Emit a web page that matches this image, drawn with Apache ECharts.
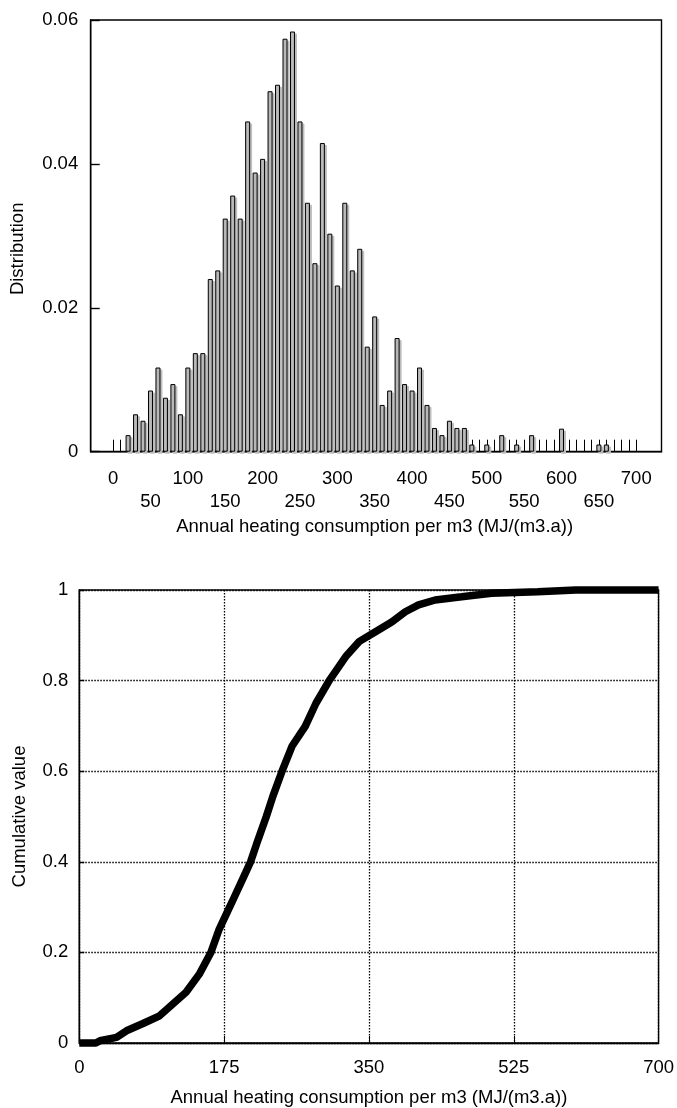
<!DOCTYPE html>
<html>
<head>
<meta charset="utf-8">
<script src="https://cdn.jsdelivr.net/npm/echarts@6/dist/echarts.min.js"></script>
<style>
html,body{margin:0;padding:0;background:#fff;}
#chart{width:677px;height:1108px;}
</style>
</head>
<body>
<div id="chart"></div>
<script>
// ---------- data ----------
const binStarts = [0,10,20,30,40,50,60,70,80,90,100,110,120,130,140,150,160,170,180,190,200,210,220,230,240,250,260,270,280,290,300,310,320,330,340,350,360,370,380,390,400,410,420,430,440,450,460,470,480,490,500,510,520,530,540,550,560,570,580,590,600,610,620,630,640,650,660,670,680,690,700];
const distribution = [
  0,0,0.0023,0.0052,0.0043,0.0085,0.0117,0.0075,0.0094,0.0052,
  0.0117,0.0137,0.0137,0.0240,0.0252,0.0324,0.0356,0.0324,0.0459,0.0388,
  0.0407,0.0501,0.0510,0.0574,0.0584,0.0459,0.0346,0.0262,0.0429,0.0303,
  0.0231,0.0346,0.0252,0.0282,0.0146,0.0188,0.0065,0.0085,0.0158,0.0094,
  0.0085,0.0117,0.0065,0.0033,0.0023,0.0043,0.0033,0.0033,0.0010,0,
  0.0010,0,0.0023,0,0.0010,0,0.0023,0,0,0,
  0.0032,0,0,0,0,0.0010,0.0010,0,0,0,
  0
];
const cdfX = [0,20,25,45,57,77,97,113,129,145,159,169,185,201,207,214,226,234,245,257,273,286,302,322,338,358,378,394,410,430,462,498,554,600,700];
const cdfY = [0,0,0.005,0.0125,0.027,0.043,0.060,0.086,0.112,0.152,0.2,0.251,0.313,0.376,0.4,0.438,0.5,0.545,0.6,0.655,0.699,0.750,0.8,0.853,0.886,0.908,0.930,0.952,0.967,0.978,0.985,0.993,0.996,1.0,1.0];
const xTitle = 'Annual heating consumption per m3 (MJ/(m3.a))';
const yTitleTop = 'Distribution';
const yTitleBottom = 'Cumulative value';

// ---------- layout ----------
const FONT = 'Liberation Sans, Arial, Helvetica, sans-serif';
const FS = 18.5;
const top1 = { left: 90.7, right: 661.5, top: 20, bottom: 451.7 };
const xMin1 = -30, xMax1 = 733.8;
const px1 = v => top1.left + (v - xMin1) / (xMax1 - xMin1) * (top1.right - top1.left);
const bot = { left: 79.3, right: 661, top: 590, bottom: 1044 };

const txt = { color: '#000', fontFamily: FONT, fontSize: FS };
const black = { color: '#000', width: 1.4 };

const barData = binStarts.map((b, i) => [b, distribution[i] === 0 ? null : distribution[i]]);
const cdfData = cdfX.map((x, i) => [x, cdfY[i]]);

const chart = echarts.init(document.getElementById('chart'), null, { renderer: 'canvas' });
chart.setOption({
  animation: false,
  backgroundColor: '#fff',
  grid: [
    { left: top1.left, width: top1.right - top1.left, top: top1.top, height: top1.bottom - top1.top,
      show: true, borderColor: '#000', borderWidth: 1.4, backgroundColor: 'transparent' },
    { left: px1(0), width: px1(700) - px1(0), top: top1.top, height: top1.bottom - top1.top, show: false },
    { left: bot.left, width: bot.right - bot.left, top: bot.top, height: bot.bottom - bot.top,
      show: true, borderColor: '#000', borderWidth: 1.4, backgroundColor: 'transparent' }
  ],
  xAxis: [
    { gridIndex: 0, type: 'value', min: xMin1, max: xMax1,
      axisLine: { show: true, onZero: false, lineStyle: black }, axisTick: { show: false },
      axisLabel: { show: false }, splitLine: { show: false } },
    { gridIndex: 1, type: 'category', data: binStarts.map(String), boundaryGap: false,
      axisLine: { show: false, onZero: false },
      axisTick: { show: true, inside: true, length: 12, interval: 0, lineStyle: { color: '#000', width: 1 } },
      axisLabel: { ...txt, lineHeight: 22.7, margin: 16,
        interval: (i, v) => (+v) % 50 === 0,
        formatter: v => ((+v) % 100 === 0 ? v : '\n' + v) },
      splitLine: { show: false },
      name: xTitle, nameLocation: 'middle', nameGap: 66, nameTextStyle: { ...txt } },
    { gridIndex: 2, type: 'value', min: 0, max: 700, interval: 175,
      axisLine: { show: true, onZero: false, lineStyle: black },
      axisTick: { show: true, inside: true, length: 7, lineStyle: { color: '#000', width: 1 } },
      axisLabel: { ...txt, margin: 15 },
      splitLine: { show: true, lineStyle: { color: '#000', width: 1.3, type: [1.5, 1.5] } },
      name: xTitle, nameLocation: 'middle', nameGap: 45, nameTextStyle: { ...txt } }
  ],
  yAxis: [
    { gridIndex: 0, type: 'value', min: 0, max: 0.06, interval: 0.02,
      axisLine: { show: true, onZero: false, lineStyle: black },
      axisTick: { show: true, inside: true, length: 9, lineStyle: { color: '#000', width: 1.4 } },
      axisLabel: { ...txt, margin: 12.5 },
      splitLine: { show: false },
      name: yTitleTop, nameLocation: 'middle', nameGap: 63, nameRotate: 90,
      nameTextStyle: { ...txt, padding: [0, 26, 0, 0] } },
    { gridIndex: 1, type: 'value', min: 0, max: 0.06, show: false,
      axisLine: { show: false, onZero: false } },
    { gridIndex: 2, type: 'value', min: 0, max: 1, interval: 0.2,
      axisLine: { show: true, onZero: false, lineStyle: black },
      axisTick: { show: true, inside: true, length: 5, lineStyle: { color: '#000', width: 1.4 } },
      axisLabel: { ...txt, margin: 11 },
      splitLine: { show: true, lineStyle: { color: '#000', width: 1.3, type: [1.5, 1.5] } },
      name: yTitleBottom, nameLocation: 'middle', nameGap: 50, nameRotate: 90,
      nameTextStyle: { ...txt } }
  ],
  series: [
    { type: 'bar', xAxisIndex: 0, yAxisIndex: 0, data: barData, barWidth: 5,
      itemStyle: { color: '#b3b3b3', borderColor: '#000', borderWidth: 1,
        shadowColor: '#bdbdbd', shadowBlur: 0, shadowOffsetX: 2, shadowOffsetY: 2 },
      emphasis: { disabled: true } },
    { type: 'line', xAxisIndex: 2, yAxisIndex: 2, data: cdfData, symbol: 'none', clip: false,
      lineStyle: { color: '#000', width: 7.5 }, emphasis: { disabled: true } }
  ]
});
</script>
</body>
</html>
